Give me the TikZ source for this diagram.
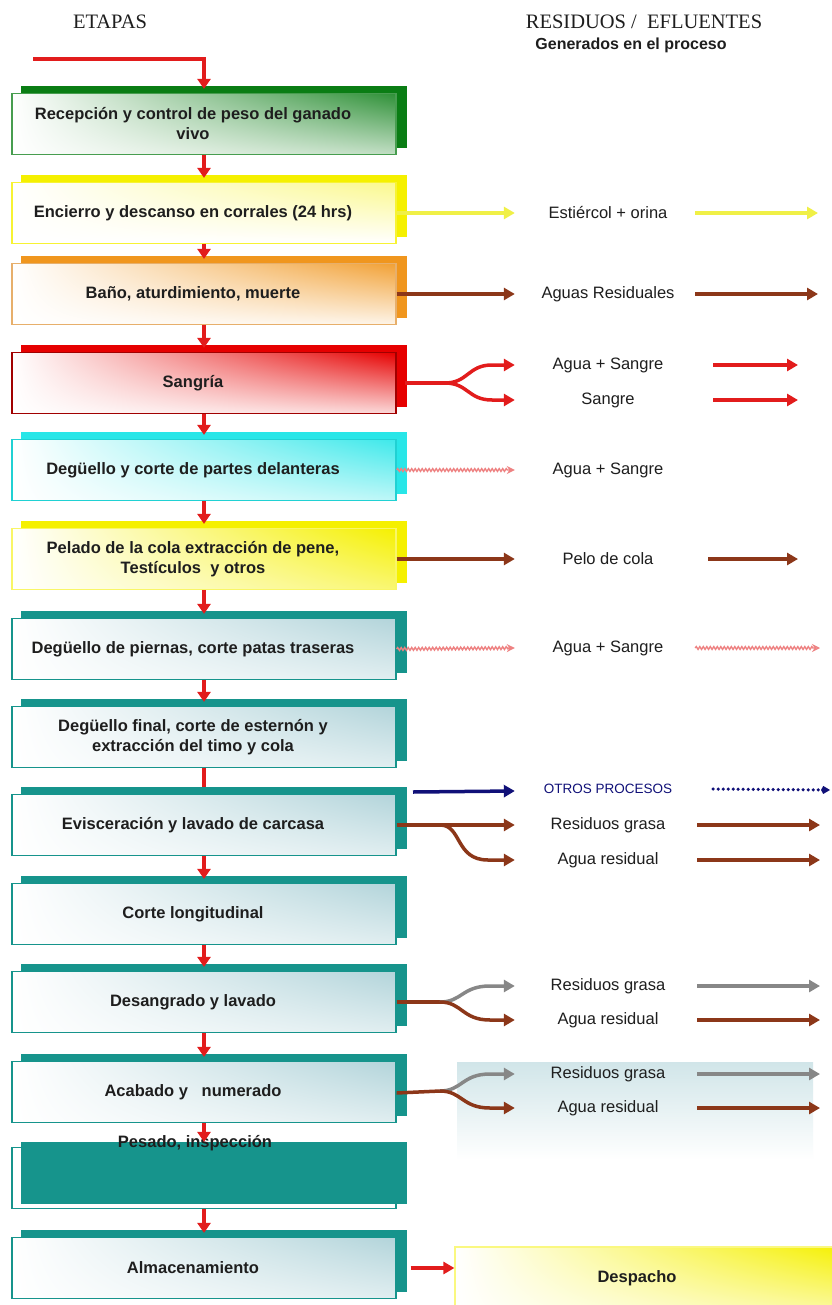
\documentclass[tikz,border=0pt]{standalone}
\usepackage{fontspec}
\setmainfont{Liberation Sans}
\newfontfamily\serifhead{Liberation Serif}
\usetikzlibrary{arrows.meta,decorations.pathmorphing,backgrounds,shadings}
\definecolor{cgreen}{RGB}{10,125,20}
\definecolor{cyel}{RGB}{245,240,0}
\definecolor{corange}{RGB}{240,150,30}
\definecolor{cred}{RGB}{230,0,0}
\definecolor{ccyan}{RGB}{40,230,232}
\definecolor{cteal}{RGB}{22,148,140}
\definecolor{tealpale}{RGB}{178,212,218}
\definecolor{arrred}{RGB}{226,28,28}
\definecolor{cbrown}{RGB}{140,55,25}
\definecolor{cgray}{RGB}{135,135,135}
\definecolor{cnavy}{RGB}{16,16,120}
\definecolor{cpink}{RGB}{238,130,130}
\definecolor{cyarrow}{RGB}{240,240,70}
\definecolor{txt}{RGB}{30,30,30}
\newcommand{\mkstage}[7]{%
  \node[stagebox, draw=#4, upper right=#5, lower right=#6] (#1) at (204,#2) {};
  \begin{pgfonlayer}{background}
    \fill[#3] ([shift={(10pt,7pt)}]#1.south west) rectangle ([shift={(10pt,7pt)}]#1.north east);
  \end{pgfonlayer}
  \node[boxtext] (t#1) at ([xshift=-11pt]#1.center) {#7};}
\begin{document}
\begin{tikzpicture}[x=1pt,y=-1pt,
  stagebox/.style={minimum width=384pt, minimum height=61pt, inner sep=0pt, line width=1.2pt,
    shade, upper left=white, lower left=white},
  boxtext/.style={font=\bfseries\fontsize{16.5}{20}\selectfont, align=center, text=txt, inner sep=0pt},
  lab/.style={font=\fontsize{16.5}{19}\selectfont, text=txt, minimum width=186pt, inner sep=0pt},
  vflow/.style={arrred, line width=3.5pt, -{Triangle[length=10pt,width=13pt]}},
  flow/.style={line width=3.5pt, -{Triangle[length=11pt,width=12pt]}},
  trunk/.style={line width=3.5pt},
  pinkwave/.style={cpink, line width=1.4pt, decorate,
    decoration={snake, amplitude=1.4pt, segment length=3.5pt, post length=7pt},
    -{Stealth[open, length=8pt, width=8pt]}}
]
\useasboundingbox (0,0) rectangle (831,1305);
\begin{pgfonlayer}{background}
\fill[white] (0,0) rectangle (831,1305);
\end{pgfonlayer}

% headers
\node[font=\serifhead\fontsize{20.5}{24}\selectfont, text=txt] (hEtapas) at (110,22) {ETAPAS};
\node[font=\serifhead\fontsize{20.5}{24}\selectfont, text=txt] (hRes) at (644,22) {RESIDUOS /\ \ EFLUENTES};
\node[font=\bfseries\fontsize{16}{19}\selectfont, text=txt] (hGen) at (631,45) {Generados en el proceso};

% light background behind last labels
\shade[top color=tealpale!60, bottom color=white] (457,1062) rectangle (813,1160);

% stages
\mkstage{b1}{124}{cgreen}{cgreen!75}{cgreen!85}{cgreen!25}{Recepción y control de peso del ganado\\vivo}
\mkstage{b2}{213}{cyel}{cyel!80}{cyel!45}{white}{Encierro y descanso en corrales (24 hrs)}
\mkstage{b3}{294}{corange}{corange!60!brown!70}{corange!90}{corange!10}{Baño, aturdimiento, muerte}
\mkstage{b4}{383}{cred}{cred!70!black}{cred}{cred!15}{Sangría}
\mkstage{b5}{470}{ccyan}{ccyan!80!teal}{ccyan!90}{ccyan!30}{Degüello y corte de partes delanteras}
\mkstage{b6}{559}{cyel}{cyel!60}{cyel}{cyel!55}{Pelado de la cola extracción de pene,\\Testículos\ \ y otros}
\mkstage{b7}{649}{cteal}{cteal}{tealpale}{tealpale!40}{Degüello de piernas, corte patas traseras}
\mkstage{b8}{737}{cteal}{cteal}{tealpale}{tealpale!40}{Degüello final, corte de esternón y\\extracción del timo y cola}
\mkstage{b9}{825}{cteal}{cteal}{tealpale}{tealpale!40}{Evisceración y lavado de carcasa}
\mkstage{b10}{914}{cteal}{cteal}{tealpale}{tealpale!40}{Corte longitudinal}
\mkstage{b11}{1002}{cteal}{cteal}{tealpale}{tealpale!40}{Desangrado y lavado}
\mkstage{b12}{1092}{cteal}{cteal}{tealpale}{tealpale!40}{Acabado y\ \ \ numerado}
% Pesado: teal panel in front of white box
\node[stagebox, draw=cteal, upper right=white, lower right=white] (b13) at (204,1178) {};
\fill[cteal] ([shift={(10pt,5pt)}]b13.south west) rectangle ([shift={(10pt,5pt)}]b13.north east);
\node[boxtext] (tb13) at (195,1143) {Pesado, inspección};
\mkstage{b14}{1268}{cteal}{cteal}{tealpale}{tealpale!40}{Almacenamiento}

% Despacho
\node[minimum width=390pt, minimum height=72pt, inner sep=0pt, line width=1.2pt, draw=cyel!50,
  shade, upper left=white, lower left=white, upper right=cyel, lower right=cyel!30] (desp) at (650,1283) {};
\node[boxtext] (tdesp) at (637,1278) {Despacho};

% input arrow
\coordinate (start) at (33,59);
\draw[vflow] (start) -| ([yshift=4pt]b1.north);

% vertical flow arrows
\draw[vflow] (b1.south) -- ([yshift=4pt]b2.north);
\draw[vflow] (b2.south) -- ([yshift=4pt]b3.north);
\draw[vflow] (b3.south) -- ([yshift=4pt]b4.north);
\draw[vflow] (b4.south) -- ([yshift=4pt]b5.north);
\draw[vflow] (b5.south) -- ([yshift=4pt]b6.north);
\draw[vflow] (b6.south) -- ([yshift=4pt]b7.north);
\draw[vflow] (b7.south) -- ([yshift=4pt]b8.north);
\draw[arrred, line width=3.5pt] (b8.south) -- ([yshift=7pt]b9.north);
\draw[vflow] (b9.south) -- ([yshift=4pt]b10.north);
\draw[vflow] (b10.south) -- ([yshift=4pt]b11.north);
\draw[vflow] (b11.south) -- ([yshift=4pt]b12.north);
\draw[vflow] (b12.south) -- ([yshift=5pt]b13.north);
\draw[vflow] (b13.south) -- ([yshift=4pt]b14.north);

% labels
\node[lab] (l2) at (608,213) {Estiércol + orina};
\node[lab] (l3) at (608,294) {Aguas Residuales};
\node[lab] (l4a) at (608,365) {Agua + Sangre};
\node[lab] (l4b) at (608,400) {Sangre};
\node[lab] (l5) at (608,470) {Agua + Sangre};
\node[lab] (l6) at (608,559) {Pelo de cola};
\node[lab] (l7) at (608,648) {Agua + Sangre};
\node[lab, font=\fontsize{13.5}{16}\selectfont, text=cnavy] (l9o) at (608,789) {OTROS PROCESOS};
\node[lab] (l9a) at (608,825) {Residuos grasa};
\node[lab] (l9b) at (608,860) {Agua residual};
\node[lab] (l11a) at (608,986) {Residuos grasa};
\node[lab] (l11b) at (608,1020) {Agua residual};
\node[lab] (l12a) at (608,1074) {Residuos grasa};
\node[lab] (l12b) at (608,1108) {Agua residual};

% right end coordinates
\coordinate (r2) at (818,213);
\coordinate (r3) at (818,294);
\coordinate (r4a) at (798,365);
\coordinate (r4b) at (798,400);
\coordinate (r6) at (798,559);
\coordinate (r7) at (820,648);
\coordinate (r9o) at (830,790);
\coordinate (r9a) at (820,825);
\coordinate (r9b) at (820,860);
\coordinate (r11a) at (820,986);
\coordinate (r11b) at (820,1020);
\coordinate (r12a) at (820,1074);
\coordinate (r12b) at (820,1108);

% row 2
\draw[flow, cyarrow] (b2.east) -- (l2.west);
\draw[flow, cyarrow] ([xshift=-6pt]l2.east) -- (r2);
% row 3
\draw[flow, cbrown] (b3.east) -- (l3.west);
\draw[flow, cbrown] ([xshift=-6pt]l3.east) -- (r3);
% row 4 (fork)
\coordinate (f4) at (445,383);
\draw[trunk, arrred] ([xshift=8pt]b4.east) -- (f4);
\draw[flow, arrred] (f4) .. controls (468,383) and (468,365) .. (492,365) -- (l4a.west);
\draw[flow, arrred] (f4) .. controls (468,383) and (468,400) .. (492,400) -- (l4b.west);
\draw[flow, arrred] ([xshift=12pt]l4a.east) -- (r4a);
\draw[flow, arrred] ([xshift=12pt]l4b.east) -- (r4b);
% row 5
\draw[pinkwave] (b5.east) -- (l5.west);
% row 6
\draw[flow, cbrown] (b6.east) -- (l6.west);
\draw[flow, cbrown] ([xshift=7pt]l6.east) -- (r6);
% row 7
\draw[pinkwave] (b7.east) -- (l7.west);
\draw[pinkwave] ([xshift=-6pt]l7.east) -- (r7);
% row 9
\coordinate (n9) at (413,792);
\draw[flow, cnavy] (n9) -- ([yshift=-2pt]l9o.west);
\draw[cnavy, line width=3.5pt, line cap=round, dash pattern=on 0pt off 5pt,
  -{Kite[length=9pt,width=8pt]}] ([xshift=12pt]l9o.east) -- (r9o);
\coordinate (f9) at (440,825);
\draw[flow, cbrown] (b9.east) -- (l9a.west);
\draw[flow, cbrown] (f9) .. controls (462,825) and (455,860) .. (488,860) -- (l9b.west);
\draw[flow, cbrown] ([xshift=-4pt]l9a.east) -- (r9a);
\draw[flow, cbrown] ([xshift=-4pt]l9b.east) -- (r9b);
% row 11
\coordinate (f11) at (440,1002);
\draw[trunk, cbrown] (b11.east) -- (f11);
\draw[flow, cgray] (f11) .. controls (462,1002) and (462,986) .. (490,986) -- (l11a.west);
\draw[flow, cbrown] (f11) .. controls (462,1002) and (462,1020) .. (490,1020) -- (l11b.west);
\draw[flow, cgray] ([xshift=-4pt]l11a.east) -- (r11a);
\draw[flow, cbrown] ([xshift=-4pt]l11b.east) -- (r11b);
% row 12
\coordinate (f12) at (440,1091);
\draw[trunk, cbrown] ([yshift=-1pt]b12.east) -- (f12);
\draw[flow, cgray] (f12) .. controls (462,1091) and (462,1074) .. (490,1074) -- (l12a.west);
\draw[flow, cbrown] (f12) .. controls (462,1091) and (462,1108) .. (490,1108) -- (l12b.west);
\draw[flow, cgray] ([xshift=-4pt]l12a.east) -- (r12a);
\draw[flow, cbrown] ([xshift=-4pt]l12b.east) -- (r12b);
% to Despacho
\draw[flow, arrred] ([xshift=14pt]b14.east) -- (b14.east -| desp.west);
\end{tikzpicture}
\end{document}
